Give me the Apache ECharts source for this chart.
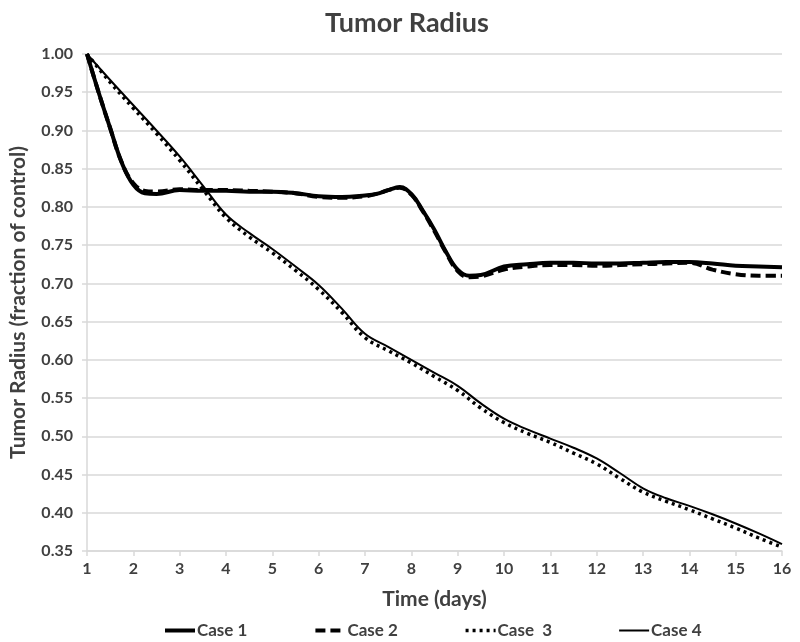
<!DOCTYPE html>
<html>
<head>
<meta charset="utf-8">
<script src="https://cdn.jsdelivr.net/npm/echarts@6/dist/echarts.min.js"></script>
<style>
  html, body { margin: 0; padding: 0; background: #fff; }
  #chart { width: 800px; height: 642px; }
</style>
</head>
<body>
<div id="chart"></div>
<script>
// DATA

const seriesNames = ["Case 1", "Case 2", "Case 3", "Case 4"];

// days sampled for the two plateau curves (denser where they drop)
const daysA = [1, 1.25, 1.5, 1.75, 2, 2.25, 2.5, 3, 3.5, 4, 4.5, 5, 5.5, 6, 6.5, 7, 7.25, 7.5, 7.75,
  8, 8.25, 8.5, 8.75, 9, 9.25, 9.5, 10, 10.5, 11, 11.5, 12, 12.5, 13, 13.5, 14, 14.5, 15, 15.5, 16];
const case1 = [1.000, 0.950, 0.903, 0.858, 0.829, 0.818, 0.817, 0.822, 0.821, 0.821, 0.820, 0.820, 0.818, 0.814, 0.813, 0.815, 0.817, 0.822, 0.826,
  0.817, 0.795, 0.770, 0.741, 0.718, 0.710, 0.711, 0.722, 0.725, 0.727, 0.727, 0.726, 0.726, 0.727, 0.728, 0.728, 0.726, 0.723, 0.722, 0.721];
const case2 = [1.000, 0.950, 0.903, 0.858, 0.831, 0.821, 0.820, 0.823, 0.822, 0.822, 0.821, 0.820, 0.818, 0.813, 0.812, 0.814, 0.817, 0.822, 0.825,
  0.816, 0.794, 0.768, 0.740, 0.716, 0.708, 0.709, 0.718, 0.722, 0.724, 0.724, 0.723, 0.724, 0.725, 0.726, 0.727, 0.718, 0.712, 0.710, 0.710];

// days sampled for the two declining curves
const daysB = [1, 1.5, 2, 2.5, 3, 3.5, 4, 4.5, 5, 5.5, 6, 6.5, 7, 7.5, 8, 8.5, 9, 9.5, 10, 10.5, 11, 11.5, 12, 12.5, 13, 13.5, 14, 14.5, 15, 15.5, 16];
const case3 = [1.000, 0.963, 0.929, 0.896, 0.861, 0.823, 0.786, 0.761, 0.740, 0.717, 0.692, 0.662, 0.629, 0.612, 0.596, 0.578, 0.560, 0.537,
  0.518, 0.504, 0.492, 0.478, 0.464, 0.445, 0.427, 0.415, 0.404, 0.392, 0.380, 0.367, 0.355];
const case4 = [1.000, 0.966, 0.933, 0.900, 0.866, 0.828, 0.790, 0.766, 0.745, 0.722, 0.698, 0.667, 0.634, 0.617, 0.600, 0.583, 0.566, 0.543,
  0.523, 0.509, 0.497, 0.485, 0.471, 0.452, 0.432, 0.419, 0.409, 0.398, 0.386, 0.373, 0.359];

function pairs(xs, ys) { return xs.map((x, i) => [x, ys[i]]); }

// CHART

const FONT = "Lato";
const TXT = "#404040";
const GRID = "#d9d9d9";

var chart = echarts.init(document.getElementById("chart"));

chart.setOption({
  backgroundColor: "#fff",
  animation: false,
  title: {
    text: "Tumor Radius",
    left: 402,
    textAlign: "center",
    top: 5,
    textStyle: { fontFamily: FONT, fontSize: 27, fontWeight: "bold", color: TXT }
  },
  legend: {
    top: 617,
    left: 158,
    itemWidth: 30,
    itemHeight: 10,
    itemGap: 66,
    data: seriesNames,
    formatter: name => name == "Case 3" ? "Case  3" : name,
    itemStyle: { opacity: 0 },
    lineStyle: { width: "inherit" },
    textStyle: { fontFamily: FONT, fontSize: 17, fontWeight: "bold", color: TXT, padding: [0, 0, 0, -3] }
  },
  grid: { left: 86, right: 18, top: 54, bottom: 91 },
  xAxis: {
    type: "value",
    min: 1, max: 16, interval: 1,
    name: "Time (days)",
    nameLocation: "middle",
    nameGap: 38,
    nameTextStyle: { fontFamily: FONT, fontSize: 21, fontWeight: "bold", color: TXT },
    axisLine: { lineStyle: { color: GRID, width: 1.5 } },
    axisTick: { show: true, length: 5, lineStyle: { color: GRID, width: 1.5 } },
    axisLabel: { margin: 10, fontFamily: FONT, fontSize: 16, fontWeight: "bold", color: TXT },
    splitLine: { show: false }
  },
  yAxis: {
    type: "value",
    min: 0.35, max: 1.0, interval: 0.05,
    name: "Tumor Radius (fraction of control)",
    nameLocation: "middle",
    nameGap: 58,
    nameTextStyle: { fontFamily: FONT, fontSize: 21, fontWeight: "bold", color: TXT },
    axisLine: { show: true, lineStyle: { color: GRID, width: 1.5 } },
    axisTick: { show: true, length: 5, lineStyle: { color: GRID, width: 1.5 } },
    axisLabel: {
      margin: 14, fontFamily: FONT, fontSize: 16, fontWeight: "bold", color: TXT,
      formatter: v => v.toFixed(2)
    },
    splitLine: { lineStyle: { color: GRID, width: 1.5 } }
  },
  series: [
    {
      name: "Case 1", type: "line", data: pairs(daysA, case1),
      smooth: 0.4, symbol: "none",
      lineStyle: { color: "#000", width: 4 }, itemStyle: { color: "#000" }
    },
    {
      name: "Case 2", type: "line", data: pairs(daysA, case2),
      smooth: 0.4, symbol: "none",
      lineStyle: { color: "#000", width: 4, type: [10, 5] }, itemStyle: { color: "#000" }
    },
    {
      name: "Case 3", type: "line", data: pairs(daysB, case3),
      smooth: 0.4, symbol: "none",
      lineStyle: { color: "#000", width: 3.5, type: [3, 4] }, itemStyle: { color: "#000" }
    },
    {
      name: "Case 4", type: "line", data: pairs(daysB, case4),
      smooth: 0.4, symbol: "none",
      lineStyle: { color: "#000", width: 2 }, itemStyle: { color: "#000" }
    }
  ]
});
</script>
</body>
</html>
